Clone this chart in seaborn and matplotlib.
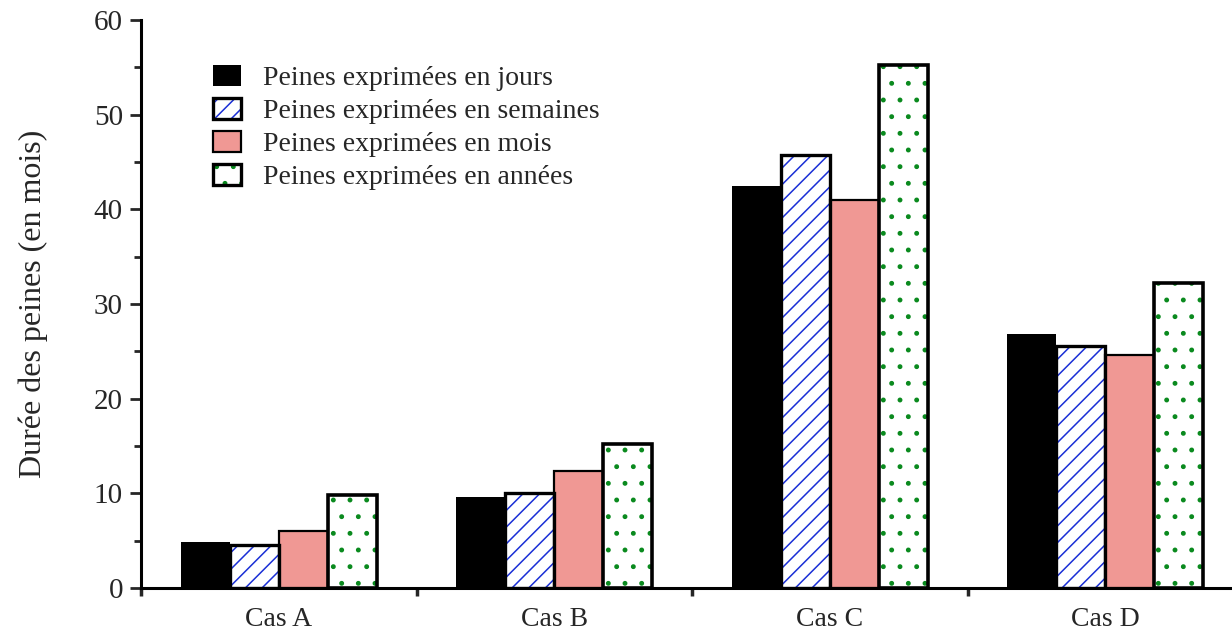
import numpy as np
import pandas as pd
import matplotlib
matplotlib.use("Agg")
import matplotlib.pyplot as plt
from matplotlib.patches import Rectangle
import seaborn as sns

# data
cases = ["Cas A", "Cas B", "Cas C", "Cas D"]
series = ["Peines exprimées en jours", "Peines exprimées en semaines",
          "Peines exprimées en mois", "Peines exprimées en années"]
jours = [4.9, 9.6, 42.5, 26.8]
semaines = [4.5, 10.0, 45.7, 25.6]
mois = [6.0, 12.4, 41.0, 24.6]
annees = [9.8, 15.2, 55.2, 32.2]

df = pd.DataFrame({
    "cas": cases * 4,
    "serie": np.repeat(series, 4),
    "duree": jours + semaines + mois + annees,
})

sns.set_theme(style="white")
plt.rcParams["font.family"] = ["Liberation Serif", "DejaVu Serif"]
plt.rcParams["hatch.linewidth"] = 1.1

fig = plt.figure(figsize=(12.32, 6.32), dpi=100)
ax = fig.add_axes([141 / 1232, 44 / 632, 1102 / 1232, 568 / 632])

fills = ["black", "white", "#f09894", "white"]
sns.barplot(data=df, x="cas", y="duree", hue="serie", hue_order=series,
            palette=fills, width=0.71, saturation=1, ax=ax, legend=False)

hatches = [None, "//", None, "."]
hatch_cols = [None, "#1a2fd6", None, "#0a8a1e"]
edge_lw = [0, 2.4, 1.6, 2.6]
handles = []
for i, cont in enumerate(ax.containers):
    outline = None
    for p in cont.patches:
        if hatches[i]:
            # hatch drawn in colour, black outline on top
            p.set_hatch(hatches[i])
            p.set_edgecolor(hatch_cols[i])
            p.set_linewidth(0)
            r = Rectangle((p.get_x(), p.get_y()), p.get_width(), p.get_height(),
                          fill=False, edgecolor="black", linewidth=edge_lw[i], zorder=3)
            ax.add_patch(r)
            outline = r
        else:
            p.set_edgecolor("black")
            p.set_linewidth(edge_lw[i])
    first = cont.patches[0]
    if outline is not None:
        lp = Rectangle((0, 0), 1, 1, facecolor="white", hatch=hatches[i],
                       edgecolor=hatch_cols[i], linewidth=0)
        lo = Rectangle((0, 0), 1, 1, fill=False, edgecolor="black", linewidth=2.4)
        handles.append((lp, lo))
    else:
        handles.append(Rectangle((0, 0), 1, 1, facecolor=first.get_facecolor(),
                                 edgecolor="black", linewidth=edge_lw[i]))

ax.legend(handles, series, loc="upper left", bbox_to_anchor=(0.043, 0.965),
          frameon=False, fontsize=20, handlelength=1.0, handleheight=0.8,
          handletextpad=0.8, labelspacing=0.24)

ax.set_ylim(0, 60)
ax.set_xlim(-0.5, 3.5)
ax.set_yticks(range(0, 61, 10))
ax.set_yticks(range(5, 60, 10), minor=True)
ax.set_xticks(range(4))
ax.set_xticklabels(cases)
ax.set_xticks([-0.5, 0.5, 1.5, 2.5, 3.5], minor=True)

ax.tick_params(axis="y", which="major", direction="out", length=8, width=2,
               labelsize=21, pad=5, left=True)
ax.tick_params(axis="y", which="minor", direction="out", length=5, width=2, left=True)
ax.tick_params(axis="x", which="major", length=0, labelsize=20, pad=14)
ax.tick_params(axis="x", which="minor", direction="out", length=6, width=2.5, bottom=True)

for s in ["top", "right"]:
    ax.spines[s].set_visible(False)
for s in ["left", "bottom"]:
    ax.spines[s].set_linewidth(2.2)
    ax.spines[s].set_color("black")

ax.set_xlabel("")
ax.set_ylabel("Durée des peines (en mois)", fontsize=23, labelpad=33)
ax.grid(False)

fig.savefig("out.png", dpi=100)
